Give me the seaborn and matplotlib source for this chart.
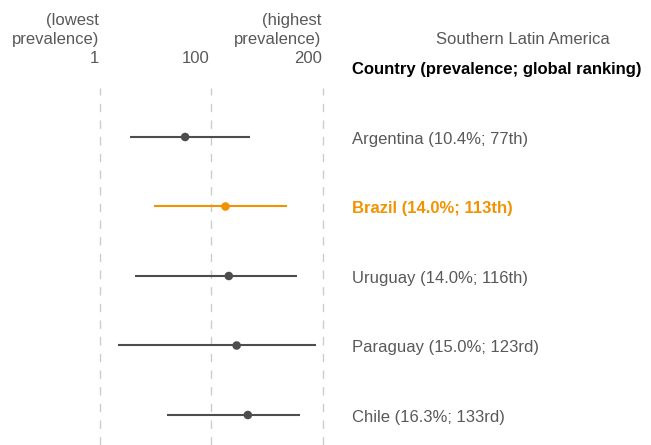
import numpy as np
import pandas as pd
import matplotlib
matplotlib.use("Agg")
import matplotlib.pyplot as plt
import seaborn as sns

# Data
countries = ["Argentina", "Brazil", "Uruguay", "Paraguay", "Chile"]
prevalence = ["10.4%", "14.0%", "14.0%", "15.0%", "16.3%"]
ordinal = ["77th", "113th", "116th", "123rd", "133rd"]
ranking = [77, 113, 116, 123, 133]
rank_low = [28, 49, 32, 17, 61]
rank_high = [135, 168, 177, 194, 180]
highlight = "Brazil"

tick_values = [1, 100, 200]
tick_labels = ["(lowest\nprevalence)\n1", "100", "(highest\nprevalence)\n200"]

region_title = "Southern Latin America"
column_header = "Country (prevalence; global ranking)"

GREY = "#4d4d4d"
ORANGE = "#F39200"
TEXT_GREY = "#595959"

df = pd.DataFrame({
    "country": countries,
    "rank": ranking,
    "low": rank_low,
    "high": rank_high,
    "row": np.arange(len(countries)),
})
df["group"] = np.where(df["country"] == highlight, "hi", "other")

sns.set_theme(style="white")
plt.rcParams["font.family"] = ["Liberation Sans", "DejaVu Sans"]

fig = plt.figure(figsize=(6.51, 4.45), dpi=100)
ax = fig.add_axes([0, 0, 1, 357 / 445])

# x scale: rank 1 at pixel 100, ~1.12 px per rank
px = 1.12
ax.set_xlim(1 - 100 / px, 1 + 551 / px)
# y scale: first row at pixel 137, step 69.5, axes top at pixel 88
ax.set_ylim(-0.705 + 357 / 69.5, -0.705)

for v in tick_values:
    ax.axvline(v, color="#cccccc", lw=1, ls=(0, (6, 6)), zorder=0)

for _, r in df.iterrows():
    c = ORANGE if r["group"] == "hi" else GREY
    ax.hlines(r["row"], r["low"], r["high"], color=c, lw=1.5, zorder=2)

sns.scatterplot(data=df, x="rank", y="row", hue="group",
                palette={"hi": ORANGE, "other": GREY}, s=38,
                edgecolor="none", legend=False, zorder=3, ax=ax)

# tick labels above the plot, right aligned on gridlines
for v, lab in zip(tick_values, tick_labels):
    ax.text(v - 1, -0.705 - 0.31, lab, ha="right", va="bottom",
            fontsize=12, color=TEXT_GREY, linespacing=1.36)

text_x = 1 + 252 / px
ax.text(1 + 423 / px, -1.40, region_title, ha="center", va="center",
        fontsize=12, color=TEXT_GREY)
ax.text(text_x, -0.97, column_header, ha="left", va="center",
        fontsize=12, color="black", fontweight="bold")

for i, (c, p, o) in enumerate(zip(countries, prevalence, ordinal)):
    lab = f"{c} ({p}; {o})"
    if c == highlight:
        ax.text(text_x, i + 0.03, lab, ha="left", va="center", fontsize=12,
                color=ORANGE, fontweight="bold")
    else:
        ax.text(text_x, i + 0.03, lab, ha="left", va="center", fontsize=12,
                color=TEXT_GREY)

ax.set_xlabel("")
ax.set_ylabel("")
ax.set_xticks([])
ax.set_yticks([])
for s in ax.spines.values():
    s.set_visible(False)

fig.savefig("out.png", dpi=100)
